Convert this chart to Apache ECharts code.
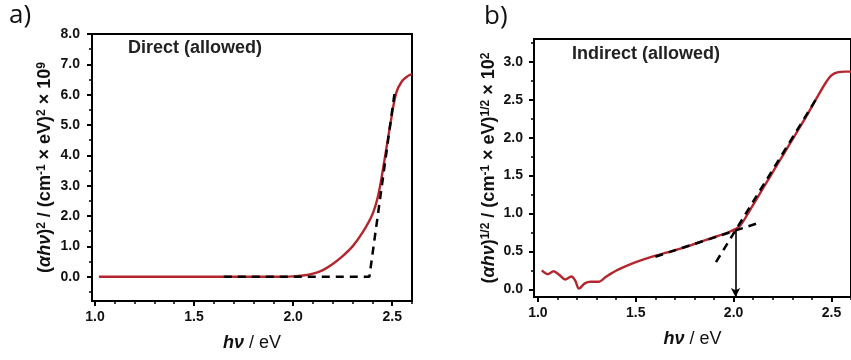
<!DOCTYPE html>
<html><head><meta charset="utf-8">
<script src="https://cdn.jsdelivr.net/npm/echarts@6/dist/echarts.min.js"></script>
<style>html,body{margin:0;padding:0;background:#fff}#c{width:851px;height:360px}</style>
</head><body><div id="c"></div>
<script>
// ---- Panel a: Direct (allowed) ----
const aX = [1.02, 1.2, 1.4, 1.6, 1.8, 1.95, 2.0, 2.05, 2.1, 2.15, 2.2, 2.25, 2.3, 2.35, 2.4, 2.43, 2.46, 2.49, 2.52, 2.55, 2.58, 2.6];
const aY = [0, 0, 0, 0, 0, 0, 0.01, 0.04, 0.1, 0.22, 0.42, 0.68, 1.0, 1.45, 2.05, 2.7, 3.8, 5.0, 6.05, 6.45, 6.62, 6.68];
const aFitX = [1.65, 2.385, 2.515];
const aFitY = [0, 0, 6.2];
const aXTicks = [1.0, 1.5, 2.0, 2.5];
const aYTicks = [0, 1, 2, 3, 4, 5, 6, 7, 8];

// ---- Panel b: Indirect (allowed) ----
const bX = [1.02, 1.05, 1.08, 1.11, 1.14, 1.17, 1.19, 1.21, 1.24, 1.27, 1.31, 1.35, 1.41, 1.49, 1.58, 1.68, 1.78, 1.88, 1.98, 2.03, 2.08, 2.15, 2.22, 2.29, 2.36, 2.42, 2.47, 2.50, 2.53, 2.57, 2.6];
const bY = [0.25, 0.20, 0.24, 0.19, 0.13, 0.17, 0.12, 0.01, 0.08, 0.10, 0.10, 0.17, 0.26, 0.35, 0.43, 0.50, 0.58, 0.67, 0.76, 0.83, 1.03, 1.33, 1.63, 1.93, 2.23, 2.50, 2.72, 2.82, 2.86, 2.87, 2.87];
const bFit1X = [1.60, 2.12];
const bFit1Y = [0.43, 0.87];
const bFit2X = [1.91, 2.42];
const bFit2Y = [0.36, 2.50];
const bGapX = 2.01, bGapY = 0.78;
const bXTicks = [1.0, 1.5, 2.0, 2.5];
const bYTicks = [0, 0.5, 1.0, 1.5, 2.0, 2.5, 3.0];

const pairs = (xs, ys) => xs.map((x, i) => [x, ys[i]]);
const range = (a, b, s) => { const r = []; for (let v = a; v <= b + 1e-9; v += s) r.push(+v.toFixed(3)); return r; };
const notHalf = v => Math.abs(v * 2 - Math.round(v * 2)) > 1e-6;

const FONT = 'Liberation Sans, Arial, sans-serif';
const lbl = { fontFamily: FONT, fontWeight: 'bold', fontSize: 14, color: '#111' };

function xLabel(grid, min, max, ticks) {
  return {
    type: 'value', gridIndex: grid, min, max, position: 'bottom', splitLine: { show: false },
    axisLine: { show: true, onZero: false, lineStyle: { color: '#000', width: 2 } },
    axisTick: { show: false },
    axisLabel: Object.assign({ customValues: ticks, margin: 9, formatter: v => v.toFixed(1) }, lbl),
    name: '{i|hν} / eV', nameLocation: 'middle', nameGap: 33,
    nameTextStyle: { fontFamily: FONT, fontSize: 18, color: '#111', rich: { i: { fontFamily: FONT, fontSize: 18, fontStyle: 'italic', fontWeight: 'bold', color: '#111' } } }
  };
}
function xTicks(grid, min, max, ticks, len, w) {
  return {
    type: 'value', gridIndex: grid, min, max, position: 'bottom', splitLine: { show: false },
    axisLine: { show: false, onZero: false }, axisLabel: { show: false },
    axisTick: { show: true, inside: false, customValues: ticks, length: len, lineStyle: { color: '#000', width: w } }
  };
}
function yLabel(grid, min, max, ticks, name, gap, margin) {
  return {
    type: 'value', gridIndex: grid, min, max, position: 'left', splitLine: { show: false },
    axisLine: { show: true, onZero: false, lineStyle: { color: '#000', width: 2 } },
    axisTick: { show: false },
    axisLabel: Object.assign({ customValues: ticks, margin: margin, formatter: v => v.toFixed(1) }, lbl),
    name: name, nameLocation: 'middle', nameGap: gap, nameRotate: 90,
    nameTextStyle: { fontFamily: FONT, fontWeight: 'bold', fontSize: 18, color: '#111',
      rich: { s: { fontFamily: FONT, fontWeight: 'bold', fontSize: 12, verticalAlign: 'top', color: '#111' },
              i: { fontFamily: FONT, fontWeight: 'bold', fontSize: 18, fontStyle: 'italic', color: '#111' } } }
  };
}
function yTicks(grid, min, max, ticks, len, w) {
  return {
    type: 'value', gridIndex: grid, min, max, position: 'left', splitLine: { show: false },
    axisLine: { show: false, onZero: false }, axisLabel: { show: false },
    axisTick: { show: true, inside: false, customValues: ticks, length: len, lineStyle: { color: '#000', width: w } }
  };
}

const RED = '#b3262d';
const chart = echarts.init(document.getElementById('c'), null, { renderer: 'canvas' });
chart.setOption({
  animation: false,
  backgroundColor: '#fff',
  grid: [
    { left: 92, right: 439, top: 34, bottom: 59, show: true, borderColor: '#000', borderWidth: 2, backgroundColor: 'transparent' },
    { left: 534, right: -7, top: 39, bottom: 63, show: true, borderColor: '#000', borderWidth: 2, backgroundColor: 'transparent' }
  ],
  xAxis: [
    xLabel(0, 0.985, 2.6, aXTicks),
    xTicks(0, 0.985, 2.6, aXTicks, 5, 2),
    xTicks(0, 0.985, 2.6, range(1.1, 2.6, 0.1).filter(notHalf), 3, 1.5),
    xLabel(1, 0.98, 2.6, bXTicks),
    xTicks(1, 0.98, 2.6, bXTicks, 5, 2),
    xTicks(1, 0.98, 2.6, range(1.1, 2.6, 0.1).filter(notHalf), 3, 1.5)
  ],
  yAxis: [
    yLabel(0, -0.8, 8.0, aYTicks, '({i|α}{i|h}{i|ν}){s|2} / (cm{s|-1} × eV){s|2} × 10{s|9}', 38, 12),
    yTicks(0, -0.8, 8.0, aYTicks, 5, 2),
    yTicks(0, -0.8, 8.0, range(-0.5, 7.5, 1), 3, 1.5),
    yLabel(1, -0.1, 3.3, bYTicks, '({i|α}{i|h}{i|ν}){s|1/2} / (cm{s|-1} × eV){s|1/2} × 10{s|2}', 36, 11),
    yTicks(1, -0.1, 3.3, bYTicks, 5, 2),
    yTicks(1, -0.1, 3.3, range(0.25, 3.25, 0.5), 3, 1.5)
  ],
  graphic: [
    { type: 'text', left: 9, top: 3, style: { text: 'a)', fontFamily: 'Open Sans, Liberation Sans, sans-serif', fontSize: 26, fill: '#111' } },
    { type: 'text', left: 484, top: 4, style: { text: 'b)', fontFamily: 'Open Sans, Liberation Sans, sans-serif', fontSize: 26, fill: '#111' } },
    { type: 'text', left: 128, top: 39, style: { text: 'Direct (allowed)', fontFamily: FONT, fontSize: 18, fontWeight: 'bold', fill: '#222' } },
    { type: 'text', left: 572, top: 45, style: { text: 'Indirect (allowed)', fontFamily: FONT, fontSize: 18, fontWeight: 'bold', fill: '#222' } }
  ],
  series: [
    { type: 'line', xAxisIndex: 0, yAxisIndex: 0, data: pairs(aX, aY), smooth: 0.35, showSymbol: false, lineStyle: { color: RED, width: 2.4 }, z: 2 },
    { type: 'line', xAxisIndex: 0, yAxisIndex: 0, data: pairs(aFitX, aFitY), showSymbol: false, lineStyle: { color: '#000', width: 2.5, type: [8, 6] }, z: 3 },
    { type: 'line', xAxisIndex: 3, yAxisIndex: 3, data: pairs(bX, bY), smooth: 0.3, showSymbol: false, lineStyle: { color: RED, width: 2.4 }, z: 2 },
    { type: 'line', xAxisIndex: 3, yAxisIndex: 3, data: pairs(bFit1X, bFit1Y), showSymbol: false, lineStyle: { color: '#000', width: 2.5, type: [8, 6] }, z: 3 },
    { type: 'line', xAxisIndex: 3, yAxisIndex: 3, data: pairs(bFit2X, bFit2Y), showSymbol: false, lineStyle: { color: '#000', width: 2.5, type: [8, 6] }, z: 3,
      markLine: { silent: true, symbol: ['none', 'arrow'], symbolSize: [7, 9], label: { show: false },
        lineStyle: { color: '#000', width: 1.6, type: 'solid' },
        data: [[{ coord: [bGapX, bGapY] }, { coord: [bGapX, -0.1] }]] } }
  ]
});
</script></body></html>
